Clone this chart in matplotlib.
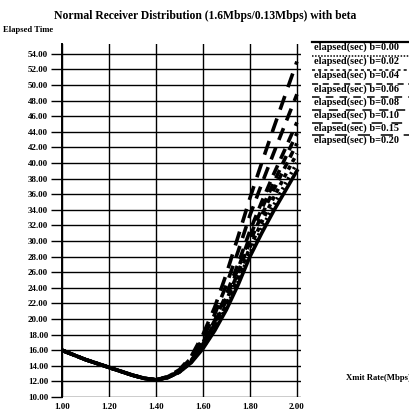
import matplotlib
matplotlib.use('Agg')
import matplotlib.pyplot as plt
from matplotlib.lines import Line2D

plt.rcParams['font.family'] = ['Liberation Serif', 'DejaVu Serif']

# transmit rate (Mbps)
xmit = [1.00, 1.05, 1.10, 1.15, 1.20, 1.25, 1.30, 1.35, 1.40, 1.45, 1.50,
        1.55, 1.60, 1.65, 1.70, 1.75, 1.80, 1.85, 1.90, 1.95, 2.00]

# elapsed time (sec) for every beta
betas = ['0.00', '0.02', '0.04', '0.06', '0.08', '0.10', '0.15', '0.20']
elapsed_b000 = [16.0, 15.4, 14.8, 14.3, 13.8, 13.3, 12.8, 12.4, 12.2, 12.5, 13.2,
                14.4, 16.2, 18.5, 21.2, 24.4, 28.0, 31.0, 33.8, 36.4, 39.0]
elapsed_b002 = [16.0, 15.4, 14.8, 14.3, 13.8, 13.3, 12.8, 12.4, 12.2, 12.5, 13.2,
                14.5, 16.3, 18.7, 21.5, 24.8, 28.5, 31.6, 34.5, 37.3, 40.0]
elapsed_b004 = [16.0, 15.4, 14.8, 14.3, 13.8, 13.3, 12.8, 12.4, 12.2, 12.5, 13.2,
                14.5, 16.5, 19.0, 21.9, 25.4, 29.2, 32.4, 35.5, 38.4, 41.2]
elapsed_b006 = [16.0, 15.4, 14.8, 14.3, 13.8, 13.3, 12.8, 12.4, 12.2, 12.5, 13.3,
                14.6, 16.7, 19.3, 22.4, 26.0, 29.9, 33.3, 36.5, 39.5, 42.5]
elapsed_b008 = [16.0, 15.4, 14.8, 14.3, 13.8, 13.3, 12.8, 12.4, 12.2, 12.5, 13.3,
                14.7, 16.8, 19.5, 22.8, 26.5, 30.6, 34.1, 37.4, 40.6, 43.8]
elapsed_b010 = [16.0, 15.4, 14.8, 14.3, 13.8, 13.3, 12.8, 12.4, 12.2, 12.5, 13.3,
                14.8, 17.0, 19.8, 23.2, 27.1, 31.3, 35.0, 38.5, 41.8, 45.2]
elapsed_b015 = [16.0, 15.4, 14.8, 14.3, 13.8, 13.3, 12.8, 12.4, 12.2, 12.6, 13.4,
                15.0, 17.5, 20.6, 24.4, 28.7, 33.3, 37.3, 41.2, 45.0, 48.8]
elapsed_b020 = [16.0, 15.4, 14.8, 14.3, 13.8, 13.3, 12.8, 12.4, 12.2, 12.6, 13.5,
                15.2, 18.0, 21.5, 25.8, 30.6, 35.5, 40.0, 44.4, 48.7, 53.0]
series = [elapsed_b000, elapsed_b002, elapsed_b004, elapsed_b006,
          elapsed_b008, elapsed_b010, elapsed_b015, elapsed_b020]

styles = ['-', (0, (0.6, 1.0)), (0, (1.2, 1.2)), (0, (2.0, 1.5)),
          (0, (2.5, 1.8)), (0, (3.0, 2.0)), (0, (3.5, 2.3)), (0, (4.0, 2.6))]
leg_styles = ['-', (0, (1, 1)), (0, (2, 2)), (0, (4, 3)),
              (0, (5, 4)), (0, (6, 5)), (0, (7, 6)), (0, (8, 7))]

xticks = [1.0, 1.2, 1.4, 1.6, 1.8, 2.0]
yticks = [10 + 2 * i for i in range(23)]

fig = plt.figure(figsize=(4.10, 4.11), dpi=100)
ax = fig.add_axes([0.151, 0.034, 0.583, 0.86])
ax.set_axisbelow(True)

for vals, ls in zip(series, styles):
    ax.plot(xmit, vals, color='black', linestyle=ls, linewidth=2.6)

ax.set_xlim(1.0, 2.017)
ax.set_ylim(10, 55.3)
ax.set_xticks(xticks)
ax.set_xticklabels(['%.2f' % v for v in xticks])
ax.set_yticks(yticks)
ax.set_yticklabels(['%.2f' % v for v in yticks])
# horizontal and vertical grid
for v in yticks:
    ax.axhline(v, color='black', linewidth=1.0, zorder=0)
for v in xticks:
    ax.axvline(v, color='black', linewidth=1.0, zorder=0)
ax.tick_params(axis='y', direction='out', length=8, width=1.0,
               labelsize=6.5, pad=2)
ax.tick_params(axis='x', length=0, pad=4, labelsize=6.5)
for lab in ax.get_xticklabels() + ax.get_yticklabels():
    lab.set_fontweight('bold')
for s in ['top', 'right', 'bottom']:
    ax.spines[s].set_visible(False)
ax.spines['left'].set_linewidth(1.4)

fig.text(0.5, 0.962, 'Normal Receiver Distribution (1.6Mbps/0.13Mbps) with beta',
         ha='center', va='center', fontsize=8.4, fontweight='bold')
fig.text(0.008, 0.926, 'Elapsed Time', ha='left', va='center', fontsize=6.2,
         fontweight='bold')
fig.text(0.845, 0.08, 'Xmit Rate(Mbps)', ha='left', va='center', fontsize=6.2,
         fontweight='bold')

# legend: a line sample above each label
leg_y = [47, 61, 75, 89, 102, 115, 128, 140]
for i, (b, ls, ypx) in enumerate(zip(betas, leg_styles, leg_y)):
    yf = 1 - ypx / 411
    fig.add_artist(Line2D([0.76, 1.0], [yf + 0.013, yf + 0.013],
                          transform=fig.transFigure, color='black',
                          linestyle=ls, linewidth=1.6 if i == 0 else 1.1))
    fig.text(0.765, yf, 'elapsed(sec) b=' + b, ha='left', va='center',
             fontsize=7.4, fontweight='bold')

fig.savefig('out.png', dpi=100)
